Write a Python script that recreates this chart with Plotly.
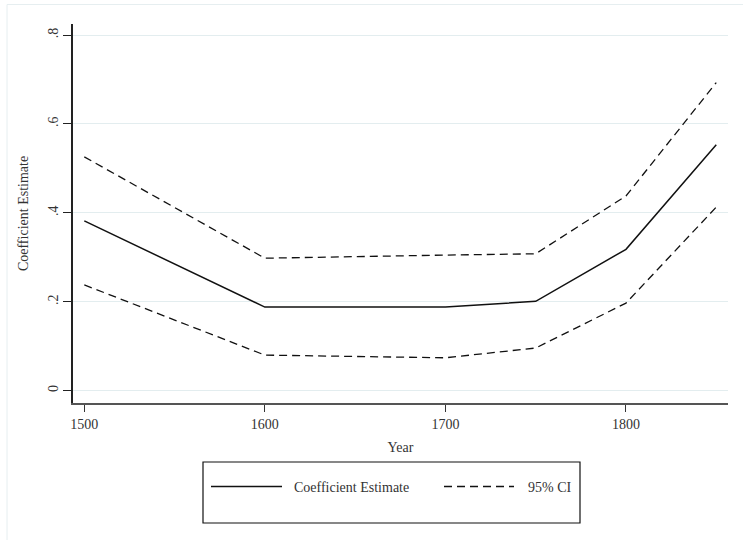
import plotly.graph_objects as go

# ---- data ----
years = [1500, 1600, 1700, 1750, 1800, 1850]
estimate = [0.382, 0.188, 0.188, 0.201, 0.318, 0.553]
upper_ci = [0.526, 0.298, 0.305, 0.308, 0.438, 0.693]
lower_ci = [0.238, 0.080, 0.074, 0.096, 0.197, 0.413]
y_tickvals = [0, 0.2, 0.4, 0.6, 0.8]
y_ticktext = ["0", ".2", ".4", ".6", ".8"]
x_tickvals = [1500, 1600, 1700, 1800]
x_ticktext = ["1500", "1600", "1700", "1800"]
legend_labels = ["Coefficient Estimate", "95% CI"]

W, H = 743, 540
L, R, T, B = 73, 15, 24, 137
PW, PH = W - L - R, H - T - B

def px(x):
    return (x - L) / PW

def py(y):
    return (H - B - y) / PH

FONT = "Liberation Serif, Times New Roman, serif"
FS = 14
DASH = "8px,5px"

fig = go.Figure()
fig.add_trace(go.Scatter(x=years, y=upper_ci, mode="lines", name=legend_labels[1],
                         line=dict(color="#111111", width=1.3, dash=DASH), showlegend=False))
fig.add_trace(go.Scatter(x=years, y=lower_ci, mode="lines", name=legend_labels[1],
                         line=dict(color="#111111", width=1.3, dash=DASH), showlegend=False))
fig.add_trace(go.Scatter(x=years, y=estimate, mode="lines", name=legend_labels[0],
                         line=dict(color="#111111", width=1.5), showlegend=False))

shapes = [
    # outer frame
    dict(type="rect", xref="paper", yref="paper", x0=px(7), x1=px(800), y0=py(600), y1=py(4.5),
         line=dict(color="#E6EEF0", width=1), fillcolor="rgba(0,0,0,0)", layer="below"),
    # legend box
    dict(type="rect", xref="paper", yref="paper", x0=px(203), x1=px(580), y0=py(523), y1=py(462),
         line=dict(color="#111111", width=1.2), fillcolor="white"),
    # legend samples
    dict(type="line", xref="paper", yref="paper", x0=px(211), x1=px(282), y0=py(486.5), y1=py(486.5),
         line=dict(color="#111111", width=1.5)),
    dict(type="line", xref="paper", yref="paper", x0=px(444), x1=px(514), y0=py(486.5), y1=py(486.5),
         line=dict(color="#111111", width=1.3, dash=DASH)),
]

annotations = [
    dict(text=legend_labels[0], xref="paper", yref="paper", x=px(292), y=py(487.5),
         xanchor="left", yanchor="middle", showarrow=False, font=dict(family=FONT, size=FS, color="#333")),
    dict(text=legend_labels[1], xref="paper", yref="paper", x=px(526), y=py(487.5),
         xanchor="left", yanchor="middle", showarrow=False, font=dict(family=FONT, size=FS, color="#333")),
]

fig.update_layout(
    width=W, height=H,
    margin=dict(l=L, r=R, t=T, b=B, autoexpand=False),
    paper_bgcolor="white", plot_bgcolor="white",
    font=dict(family=FONT, size=FS, color="#333"),
    shapes=shapes, annotations=annotations,
    showlegend=False,
)
fig.update_xaxes(
    range=[1493.74, 1856.5], tickvals=x_tickvals, ticktext=x_ticktext,
    showgrid=False, zeroline=False, showline=True, linecolor="#555", linewidth=2,
    ticks="outside", ticklen=7, tickwidth=1.2, tickcolor="#333",
    tickfont=dict(family=FONT, size=FS, color="#333"),
    title=dict(text="Year", font=dict(family=FONT, size=FS, color="#333"), standoff=11),
    automargin=False,
)
fig.update_yaxes(
    range=[-0.0277, 0.8248], tickvals=y_tickvals, ticktext=y_ticktext, tickangle=-90,
    showgrid=True, gridcolor="#E3EDEF", gridwidth=1.2, zeroline=False,
    showline=True, linecolor="#222", linewidth=1.5,
    ticks="outside", ticklen=8, tickwidth=1.2, tickcolor="#222",
    tickfont=dict(family=FONT, size=FS, color="#333"),
    title=dict(text="Coefficient Estimate", font=dict(family=FONT, size=FS, color="#333"), standoff=14),
    automargin=False,
)

fig.write_html("out.html", config={"displayModeBar": False},
               post_script="document.body.style.margin='0';")
